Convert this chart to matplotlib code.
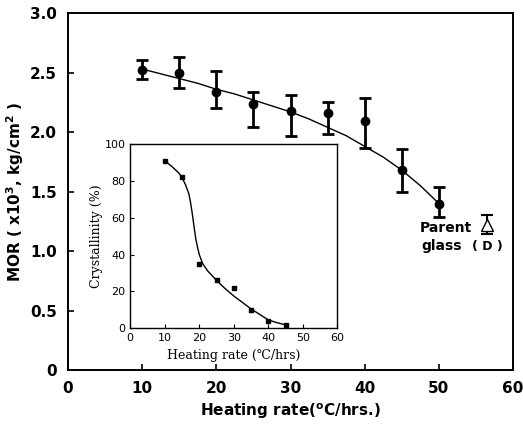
import matplotlib
matplotlib.use('Agg')
import matplotlib.pyplot as plt

# Datos principales: MOR vs velocidad de calentamiento
rate = [10, 15, 20, 25, 30, 35, 40, 45, 50]
mor = [2.52, 2.50, 2.34, 2.24, 2.18, 2.16, 2.09, 1.68, 1.40]
err_up = [0.09, 0.13, 0.17, 0.10, 0.13, 0.09, 0.20, 0.18, 0.14]
err_dn = [0.07, 0.13, 0.14, 0.20, 0.21, 0.18, 0.22, 0.18, 0.11]

# Curva de tendencia
fit_x = [10, 12.5, 15, 17.5, 20, 22.5, 25, 27.5, 30, 32.5, 35, 37.5, 40, 42.5, 45, 47.5, 50]
fit_y = [2.53, 2.49, 2.45, 2.41, 2.36, 2.32, 2.27, 2.22, 2.17, 2.11, 2.04, 1.97, 1.88, 1.79, 1.68, 1.55, 1.40]

# Vidrio original
parent_x = [56.5]
parent_y = [1.22]
parent_err = [0.08]

# Inset: cristalinidad
ins_x = [10, 15, 20, 25, 30, 35, 40, 45]
ins_y = [91, 82, 35, 26, 22, 10, 4, 2]
ins_fit_x = [10, 12, 14, 15, 16, 17, 17.5, 18, 18.5, 19, 19.5, 20, 21, 22.5, 25, 27.5, 30, 32.5, 35, 37.5, 40, 42.5, 45]
ins_fit_y = [91, 88, 84.5, 82, 78, 73, 68, 62, 55, 48.5, 44, 40, 35, 31, 26, 21.5, 17.5, 14, 10.5, 7.5, 4.5, 3, 1.8]

fig = plt.figure(figsize=(5.23, 4.37), dpi=100)
ax = fig.add_axes([0.130, 0.153, 0.851, 0.817])

ax.plot(fit_x, fit_y, color='black', lw=1.0)
ax.errorbar(rate, mor, yerr=[err_dn, err_up], fmt='o', color='black',
            ms=6, elinewidth=2.0, capsize=4, capthick=2.0)
ax.errorbar(parent_x, parent_y, yerr=parent_err, fmt='^', color='black',
            mfc='white', ms=8, elinewidth=1.5, capsize=4, capthick=1.5)
ax.text(47.4, 1.16, 'Parent', fontsize=10, fontweight='bold', ha='left')
ax.text(47.6, 1.01, 'glass', fontsize=10, fontweight='bold', ha='left')
ax.text(56.5, 1.01, '( D )', fontsize=9, fontweight='bold', ha='center')

ax.set_xlim(0, 60)
ax.set_ylim(0, 3.0)
ax.set_xticks([0, 10, 20, 30, 40, 50, 60])
ax.set_yticks([0, 0.5, 1.0, 1.5, 2.0, 2.5, 3.0])
ax.set_yticklabels(['0', '0.5', '1.0', '1.5', '2.0', '2.5', '3.0'])
ax.tick_params(direction='in', length=4, width=1.2, labelsize=11, pad=8)
for lbl in ax.get_xticklabels() + ax.get_yticklabels():
    lbl.set_fontweight('bold')
for s in ax.spines.values():
    s.set_linewidth(1.4)
ax.set_xlabel('Heating rate($^{\\mathbf{o}}$C/hrs.)', fontsize=11, fontweight='bold', labelpad=4)
ax.set_ylabel('MOR ( x10$^{\\mathbf{3}}$, kg/cm$^{\\mathbf{2}}$ )', fontsize=11, fontweight='bold', labelpad=3)

# Inset
axi = fig.add_axes([0.249, 0.249, 0.396, 0.421])
axi.plot(ins_fit_x, ins_fit_y, color='black', lw=1.0)
axi.plot(ins_x, ins_y, 's', color='black', ms=3)
axi.set_xlim(0, 60)
axi.set_ylim(0, 100)
axi.set_xticks([0, 10, 20, 30, 40, 50, 60])
axi.set_yticks([0, 20, 40, 60, 80, 100])
axi.tick_params(direction='in', length=3, labelsize=8)
for s in axi.spines.values():
    s.set_linewidth(1.0)
axi.set_xlabel('Heating rate (\u2103/hrs)', fontsize=9, family='serif', labelpad=4)
axi.set_ylabel('Crystallinity (%)', fontsize=9, family='serif', labelpad=1)

plt.savefig('out.png', dpi=100)
plt.close()
